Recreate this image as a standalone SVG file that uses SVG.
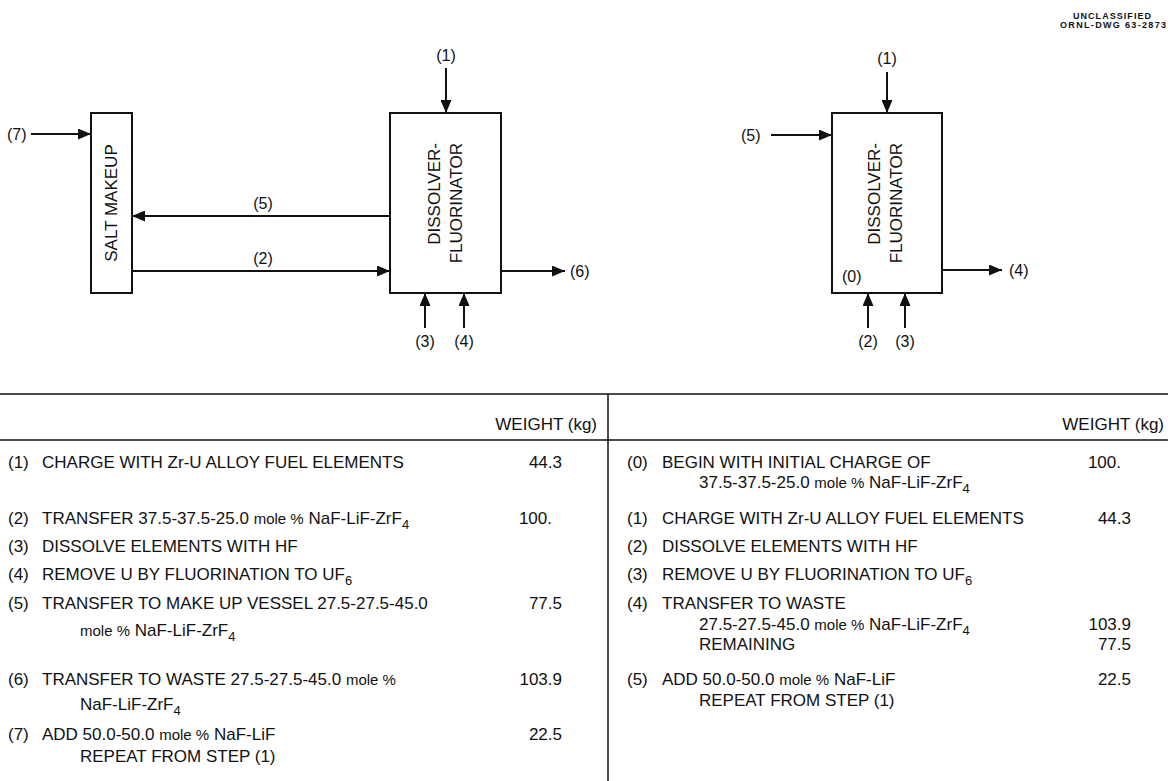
<svg xmlns="http://www.w3.org/2000/svg" width="1168" height="781" viewBox="0 0 1168 781">
<style>
text{font-family:"Liberation Sans",Arial,sans-serif;fill:#111}
.lbl{font-size:16px}
.box{fill:#fff;stroke:#111;stroke-width:2}
.name{font-size:17px}
.conn line{stroke:#111;stroke-width:2}
.tb{font-size:17px}
.sm{font-size:15px}
.sub{font-size:13px}
.rule{stroke:#111;stroke-width:1.5}
.hdr{font-size:9px;font-weight:bold}
</style>
<defs>
<marker id="ah" markerUnits="userSpaceOnUse" markerWidth="13" markerHeight="11" refX="13" refY="5.5" orient="auto">
<path d="M0,0 L13,5.5 L0,11 Z" fill="#111"/>
</marker>
</defs>
<rect width="1168" height="781" fill="#fff"/>
<g id="header">
<text class="hdr" x="1112" y="19" text-anchor="middle" textLength="78">UNCLASSIFIED</text>
<text class="hdr" x="1113" y="28" text-anchor="middle" textLength="106">ORNL-DWG 63-2873</text>
</g>
<g id="salt-makeup">
<rect class="box" x="91" y="113" width="41" height="180"/>
<text class="name" transform="translate(117,203) rotate(-90)" text-anchor="middle">SALT MAKEUP</text>
</g>
<g id="dissolver-left">
<rect class="box" x="390" y="113" width="111" height="180"/>
<text class="name" transform="translate(440,143) rotate(-90)" text-anchor="end">DISSOLVER-</text>
<text class="name" transform="translate(462,143) rotate(-90)" text-anchor="end">FLUORINATOR</text>
</g>
<g id="dissolver-right">
<rect class="box" x="832" y="113" width="110" height="180"/>
<text class="name" transform="translate(880,143) rotate(-90)" text-anchor="end">DISSOLVER-</text>
<text class="name" transform="translate(902,143) rotate(-90)" text-anchor="end">FLUORINATOR</text>
<text class="lbl" x="842" y="282">(0)</text>
</g>
<g id="connectors" class="conn">
<line x1="31" y1="134" x2="91" y2="134" marker-end="url(#ah)"/>
<line x1="446" y1="68" x2="446" y2="113" marker-end="url(#ah)"/>
<line x1="390" y1="216" x2="132" y2="216" marker-end="url(#ah)"/>
<line x1="132" y1="271" x2="390" y2="271" marker-end="url(#ah)"/>
<line x1="501" y1="271" x2="565" y2="271" marker-end="url(#ah)"/>
<line x1="425" y1="328" x2="425" y2="293" marker-end="url(#ah)"/>
<line x1="464" y1="328" x2="464" y2="293" marker-end="url(#ah)"/>
<line x1="887" y1="72" x2="887" y2="113" marker-end="url(#ah)"/>
<line x1="771" y1="135" x2="832" y2="135" marker-end="url(#ah)"/>
<line x1="942" y1="270" x2="1002" y2="270" marker-end="url(#ah)"/>
<line x1="868" y1="328" x2="868" y2="293" marker-end="url(#ah)"/>
<line x1="905" y1="328" x2="905" y2="293" marker-end="url(#ah)"/>
</g>
<g id="connector-labels" class="lbl">
<text x="7" y="140">(7)</text>
<text x="446" y="61" text-anchor="middle">(1)</text>
<text x="263" y="209" text-anchor="middle">(5)</text>
<text x="263" y="264" text-anchor="middle">(2)</text>
<text x="570" y="277">(6)</text>
<text x="425" y="347" text-anchor="middle">(3)</text>
<text x="464" y="347" text-anchor="middle">(4)</text>
<text x="887" y="64" text-anchor="middle">(1)</text>
<text x="741" y="141">(5)</text>
<text x="1009" y="276">(4)</text>
<text x="868" y="347" text-anchor="middle">(2)</text>
<text x="905" y="347" text-anchor="middle">(3)</text>
</g>
<g id="table-rules">
<line class="rule" x1="0" y1="394" x2="1168" y2="394"/>
<line class="rule" x1="0" y1="440" x2="1168" y2="440"/>
<line class="rule" x1="608" y1="394" x2="608" y2="781"/>
</g>
<g id="table-left" class="tb">
<text x="597" y="430" text-anchor="end">WEIGHT (kg)</text>
<text x="8" y="468">(1)</text><text x="42" y="468">CHARGE WITH Zr-U ALLOY FUEL ELEMENTS</text><text x="562" y="468" text-anchor="end">44.3</text>
<text x="8" y="524">(2)</text><text x="42" y="524">TRANSFER 37.5-37.5-25.0 <tspan class="sm">mole %</tspan> NaF-LiF-ZrF<tspan class="sub" dy="5">4</tspan></text><text x="552" y="524" text-anchor="end">100.</text>
<text x="8" y="552">(3)</text><text x="42" y="552">DISSOLVE ELEMENTS WITH HF</text>
<text x="8" y="580">(4)</text><text x="42" y="580">REMOVE U BY FLUORINATION TO UF<tspan class="sub" dy="5">6</tspan></text>
<text x="8" y="609">(5)</text><text x="42" y="609">TRANSFER TO MAKE UP VESSEL 27.5-27.5-45.0</text><text x="562" y="609" text-anchor="end">77.5</text>
<text x="80" y="636"><tspan class="sm">mole %</tspan> NaF-LiF-ZrF<tspan class="sub" dy="5">4</tspan></text>
<text x="8" y="685">(6)</text><text x="42" y="685">TRANSFER TO WASTE 27.5-27.5-45.0 <tspan class="sm">mole %</tspan></text><text x="562" y="685" text-anchor="end">103.9</text>
<text x="80" y="710">NaF-LiF-ZrF<tspan class="sub" dy="5">4</tspan></text>
<text x="8" y="740">(7)</text><text x="42" y="740">ADD 50.0-50.0 <tspan class="sm">mole %</tspan> NaF-LiF</text><text x="562" y="740" text-anchor="end">22.5</text>
<text x="80" y="762">REPEAT FROM STEP (1)</text>
</g>
<g id="table-right" class="tb">
<text x="1164" y="430" text-anchor="end">WEIGHT (kg)</text>
<text x="627" y="468">(0)</text><text x="662" y="468">BEGIN WITH INITIAL CHARGE OF</text><text x="1121" y="468" text-anchor="end">100.</text>
<text x="699" y="488">37.5-37.5-25.0 <tspan class="sm">mole %</tspan> NaF-LiF-ZrF<tspan class="sub" dy="5">4</tspan></text>
<text x="627" y="524">(1)</text><text x="662" y="524">CHARGE WITH Zr-U ALLOY FUEL ELEMENTS</text><text x="1131" y="524" text-anchor="end">44.3</text>
<text x="627" y="552">(2)</text><text x="662" y="552">DISSOLVE ELEMENTS WITH HF</text>
<text x="627" y="580">(3)</text><text x="662" y="580">REMOVE U BY FLUORINATION TO UF<tspan class="sub" dy="5">6</tspan></text>
<text x="627" y="609">(4)</text><text x="662" y="609">TRANSFER TO WASTE</text>
<text x="699" y="630">27.5-27.5-45.0 <tspan class="sm">mole %</tspan> NaF-LiF-ZrF<tspan class="sub" dy="5">4</tspan></text><text x="1131" y="630" text-anchor="end">103.9</text>
<text x="699" y="650">REMAINING</text><text x="1131" y="650" text-anchor="end">77.5</text>
<text x="627" y="685">(5)</text><text x="662" y="685">ADD 50.0-50.0 <tspan class="sm">mole %</tspan> NaF-LiF</text><text x="1131" y="685" text-anchor="end">22.5</text>
<text x="699" y="706">REPEAT FROM STEP (1)</text>
</g>
</svg>
